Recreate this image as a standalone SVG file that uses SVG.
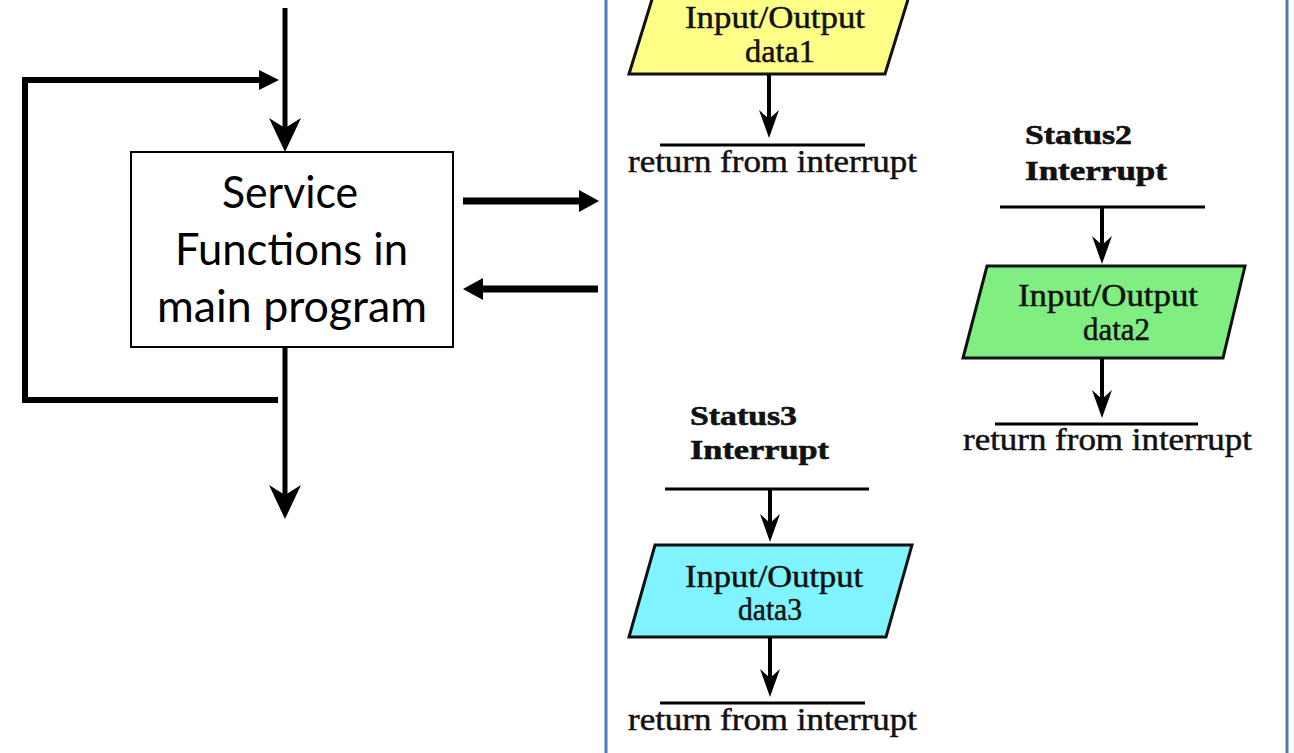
<svg xmlns="http://www.w3.org/2000/svg" width="1294" height="753" viewBox="0 0 1294 753">
  <style>
    .ln { stroke: #000; fill: none; }
    .thick { stroke-width: 6; }
    .mid { stroke-width: 5; }
    .thin { stroke-width: 3; }
    .shaft { stroke-width: 4; }
    .head { fill: #000; stroke: none; }
    .sans { font-family: Lato, "Open Sans", "Liberation Sans", sans-serif; font-size: 45px; fill: #000; }
    .serif { font-family: "Liberation Serif", "Times New Roman", serif; font-size: 32px; fill: #111; stroke: #111; stroke-width: 0.5; }
    .bold { font-family: "Liberation Serif", "Times New Roman", serif; font-size: 28px; font-weight: bold; fill: #111; stroke: #111; stroke-width: 0.6; }
    .frame { stroke: #4A7EBB; stroke-width: 3; fill: none; }
    .io { stroke: #111; stroke-width: 3; }
  </style>
  <defs>
    <!-- notched arrowheads pointing down, tip at origin -->
    <path id="vhead" d="M0,0 L-16,-34 L0,-24 L16,-34 Z"/>
    <path id="shead" d="M0,0 L-10,-28 L0,-19 L10,-28 Z"/>
  </defs>
  <rect width="1294" height="753" fill="#fff"/>

  <!-- panel holding the interrupt routines -->
  <g id="panel">
    <line class="frame" x1="606" y1="0" x2="606" y2="753"/>
    <line class="frame" x1="1287" y1="0" x2="1287" y2="753"/>
  </g>

  <!-- main program box -->
  <g id="main">
    <rect x="131" y="152" width="322" height="195" fill="#fff" stroke="#000" stroke-width="2"/>
    <text class="sans" x="222" y="208" textLength="136" lengthAdjust="spacingAndGlyphs">Service</text>
    <text class="sans" x="175" y="265" textLength="233" lengthAdjust="spacingAndGlyphs">Functions in</text>
    <text class="sans" x="157" y="322" textLength="270" lengthAdjust="spacingAndGlyphs">main program</text>
  </g>

  <!-- flow lines around main program -->
  <g id="connectors">
    <line class="ln mid" x1="285" y1="8" x2="285" y2="135"/>
    <use href="#vhead" class="head" transform="translate(285,152)"/>
    <polyline class="ln thick" points="268,80 25,80 25,400 278,400"/>
    <path class="head" d="M279,80 L259,70 L259,90 Z"/>
    <line class="ln mid" x1="285" y1="347" x2="285" y2="500"/>
    <use href="#vhead" class="head" transform="translate(285,519)"/>
    <line class="ln" stroke-width="7" x1="463" y1="201" x2="582" y2="201"/>
    <path class="head" d="M599,201 L579,190 L579,212 Z"/>
    <line class="ln" stroke-width="7" x1="598" y1="289" x2="480" y2="289"/>
    <path class="head" d="M463,289 L483,278 L483,300 Z"/>
  </g>

  <!-- routine 1 -->
  <g id="routine1">
    <polygon class="io" points="658,-20 914,-20 885,74 629,74" fill="#FFFF88"/>
    <text class="serif" x="685" y="28" textLength="180" lengthAdjust="spacingAndGlyphs">Input/Output</text>
    <text class="serif" x="745" y="62" textLength="70" lengthAdjust="spacingAndGlyphs">data1</text>
    <line class="ln shaft" x1="769" y1="74" x2="769" y2="125"/>
    <use href="#shead" class="head" transform="translate(769,138)"/>
    <line class="ln thin" x1="660" y1="145" x2="865" y2="145"/>
    <text class="serif" x="628" y="172" textLength="289" lengthAdjust="spacingAndGlyphs">return from interrupt</text>
  </g>

  <!-- routine 2 -->
  <g id="routine2">
    <text class="bold" x="1025" y="144" textLength="107" lengthAdjust="spacingAndGlyphs">Status2</text>
    <text class="bold" x="1025" y="180" textLength="142" lengthAdjust="spacingAndGlyphs">Interrupt</text>
    <line class="ln thin" x1="1000" y1="207" x2="1205" y2="207"/>
    <line class="ln shaft" x1="1102" y1="207" x2="1102" y2="250"/>
    <use href="#shead" class="head" transform="translate(1102,264)"/>
    <polygon class="io" points="987,266 1245,266 1223,358 963,358" fill="#80EE80"/>
    <text class="serif" x="1018" y="306" textLength="180" lengthAdjust="spacingAndGlyphs">Input/Output</text>
    <text class="serif" x="1083" y="340" textLength="67" lengthAdjust="spacingAndGlyphs">data2</text>
    <line class="ln shaft" x1="1102" y1="358" x2="1102" y2="405"/>
    <use href="#shead" class="head" transform="translate(1102,418)"/>
    <line class="ln thin" x1="995" y1="424" x2="1198" y2="424"/>
    <text class="serif" x="963" y="450" textLength="289" lengthAdjust="spacingAndGlyphs">return from interrupt</text>
  </g>

  <!-- routine 3 -->
  <g id="routine3">
    <text class="bold" x="690" y="425" textLength="107" lengthAdjust="spacingAndGlyphs">Status3</text>
    <text class="bold" x="690" y="459" textLength="139" lengthAdjust="spacingAndGlyphs">Interrupt</text>
    <line class="ln thin" x1="665" y1="489" x2="869" y2="489"/>
    <line class="ln shaft" x1="770" y1="489" x2="770" y2="528"/>
    <use href="#shead" class="head" transform="translate(770,542)"/>
    <polygon class="io" points="655,545 912,545 886,637 629,637" fill="#7FF4FF"/>
    <text class="serif" x="685" y="587" textLength="178" lengthAdjust="spacingAndGlyphs">Input/Output</text>
    <text class="serif" x="738" y="620" textLength="64" lengthAdjust="spacingAndGlyphs">data3</text>
    <line class="ln shaft" x1="770" y1="637" x2="770" y2="684"/>
    <use href="#shead" class="head" transform="translate(770,697)"/>
    <line class="ln thin" x1="660" y1="703" x2="865" y2="703"/>
    <text class="serif" x="628" y="730" textLength="289" lengthAdjust="spacingAndGlyphs">return from interrupt</text>
  </g>
</svg>
